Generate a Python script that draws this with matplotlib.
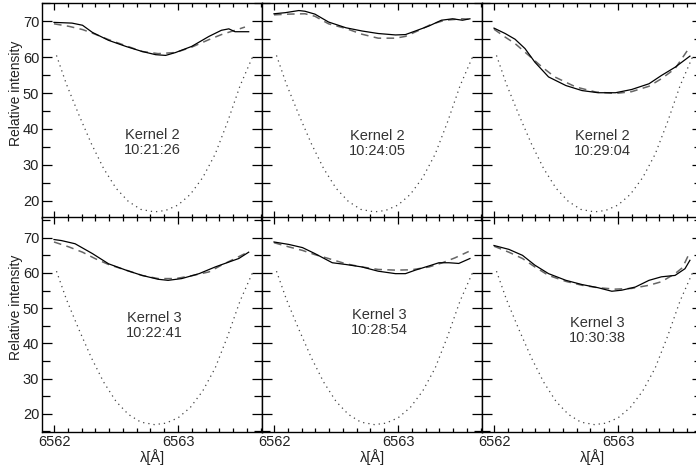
import numpy as np
import matplotlib
matplotlib.use("Agg")
import matplotlib.pyplot as plt
from matplotlib import ticker as mticker

plt.rcParams['font.family'] = ['Liberation Sans', 'DejaVu Sans']
plt.rcParams['font.size'] = 10.5

# filter / reference profile (dotted), same in every panel
dot_x = [6562.02, 6562.10, 6562.20, 6562.30, 6562.40, 6562.50, 6562.60, 6562.70, 6562.81,
         6562.90, 6563.00, 6563.10, 6563.20, 6563.30, 6563.40, 6563.50, 6563.60]
dot_y = [60.5, 52.5, 44.0, 36.0, 29.0, 23.5, 19.8, 17.6, 16.9,
         17.3, 18.8, 21.8, 26.5, 33.0, 42.0, 52.0, 60.0]

# observed profiles (solid)
obs_x = [
    [6562.00, 6562.145, 6562.23, 6562.31, 6562.44, 6562.58, 6562.71, 6562.82, 6562.90, 6562.98,
     6563.11, 6563.25, 6563.35, 6563.41, 6563.46, 6563.57],
    [6562.00, 6562.09, 6562.20, 6562.25, 6562.33, 6562.44, 6562.58, 6562.71, 6562.84, 6562.98,
     6563.06, 6563.14, 6563.25, 6563.35, 6563.44, 6563.52, 6563.58],
    [6562.00, 6562.09, 6562.17, 6562.25, 6562.33, 6562.44, 6562.58, 6562.71, 6562.84, 6562.98,
     6563.11, 6563.25, 6563.35, 6563.46, 6563.58],
    [6562.00, 6562.06, 6562.17, 6562.31, 6562.44, 6562.58, 6562.71, 6562.84, 6562.92, 6563.03,
     6563.17, 6563.30, 6563.41, 6563.49, 6563.57],
    [6562.00, 6562.12, 6562.23, 6562.33, 6562.47, 6562.58, 6562.71, 6562.84, 6562.98, 6563.06,
     6563.14, 6563.25, 6563.33, 6563.41, 6563.49, 6563.58],
    [6562.00, 6562.12, 6562.23, 6562.33, 6562.44, 6562.58, 6562.71, 6562.84, 6562.95, 6563.03,
     6563.14, 6563.25, 6563.35, 6563.46, 6563.54, 6563.58],
]
obs_y = [
    [69.7, 69.5, 68.9, 66.9, 64.7, 63.0, 61.6, 60.7, 60.5, 61.3, 63.0, 65.8, 67.5, 67.9, 67.1, 67.1],
    [72.1, 72.4, 73.0, 72.8, 72.0, 69.8, 68.2, 67.3, 66.6, 66.2, 66.3, 67.3, 68.7, 70.3, 70.7, 70.3, 70.7],
    [68.1, 66.6, 65.0, 62.4, 58.6, 54.5, 52.1, 50.7, 50.1, 50.1, 51.0, 52.6, 54.9, 57.2, 60.3],
    [69.5, 69.2, 68.3, 65.5, 62.6, 60.8, 59.3, 58.2, 57.9, 58.4, 59.8, 61.7, 63.1, 64.1, 65.9],
    [68.8, 68.1, 67.2, 65.5, 62.9, 62.4, 61.7, 60.5, 59.8, 59.8, 60.8, 62.0, 62.9, 62.9, 62.7, 64.1],
    [67.8, 66.7, 65.0, 62.2, 59.8, 57.9, 56.7, 55.8, 54.8, 55.1, 56.0, 57.9, 58.9, 59.3, 61.2, 63.6],
]

# fitted profiles (dashed)
fit_x = [
    [6562.00, 6562.12, 6562.23, 6562.31, 6562.44, 6562.71, 6562.84, 6562.98, 6563.11, 6563.25,
     6563.35, 6563.46, 6563.54],
    [6562.00, 6562.12, 6562.25, 6562.33, 6562.44, 6562.58, 6562.71, 6562.84, 6562.98, 6563.06,
     6563.17, 6563.27, 6563.38, 6563.52, 6563.57],
    [6562.00, 6562.09, 6562.17, 6562.28, 6562.39, 6562.49, 6562.66, 6562.82, 6562.98, 6563.11,
     6563.25, 6563.35, 6563.46, 6563.57],
    [6562.00, 6562.12, 6562.23, 6562.33, 6562.44, 6562.58, 6562.71, 6562.84, 6562.98, 6563.11,
     6563.25, 6563.35, 6563.46, 6563.54],
    [6562.00, 6562.12, 6562.23, 6562.33, 6562.44, 6562.58, 6562.71, 6562.84, 6562.98, 6563.11,
     6563.25, 6563.35, 6563.46, 6563.57],
    [6562.00, 6562.12, 6562.23, 6562.33, 6562.44, 6562.58, 6562.71, 6562.84, 6562.98, 6563.11,
     6563.25, 6563.35, 6563.46, 6563.52, 6563.57],
]
fit_y = [
    [69.3, 68.6, 67.7, 66.7, 64.9, 61.6, 61.0, 61.3, 62.8, 64.9, 66.3, 67.5, 68.4],
    [71.8, 72.0, 72.1, 71.4, 69.3, 68.0, 66.4, 65.3, 65.3, 65.8, 67.5, 69.2, 70.3, 70.7, 70.6],
    [67.8, 65.6, 63.8, 60.5, 57.2, 54.5, 51.7, 50.3, 49.9, 50.4, 51.9, 54.0, 56.8, 62.4],
    [68.8, 67.4, 65.9, 64.1, 62.4, 60.8, 59.3, 58.4, 58.4, 59.2, 60.3, 62.2, 64.1, 65.5],
    [68.6, 67.4, 66.4, 65.2, 64.1, 62.6, 61.7, 61.0, 60.8, 60.9, 61.7, 62.8, 64.3, 66.1],
    [67.6, 65.9, 64.1, 61.7, 59.3, 57.6, 56.5, 55.8, 55.4, 55.6, 56.5, 57.5, 59.8, 61.5, 65.2],
]

kernels = ["Kernel 2", "Kernel 2", "Kernel 2", "Kernel 3", "Kernel 3", "Kernel 3"]
times = ["10:21:26", "10:24:05", "10:29:04", "10:22:41", "10:28:54", "10:30:38"]
label_pos = [(6562.79, 36.2), (6562.83, 36.0), (6562.87, 36.0),
             (6562.81, 45.0), (6562.85, 46.0), (6562.83, 43.6)]

W, H = 696, 470
fig = plt.figure(figsize=(W/100, H/100), dpi=100)

pw, ph = 220, 215
lefts = [42, 262, 482]
tops = [3, 217]
xlim = (6562 - 12/124, 6562 - 12/124 + pw/124)
ylims = [(15.2, 75.1), (14.8, 75.9)]
minor_x = [6562 + k/9 for k in range(-1, 17)]

for i in range(6):
    r, c = divmod(i, 3)
    ax = fig.add_axes([lefts[c]/W, 1 - (tops[r] + ph)/H, pw/W, ph/H])
    ax.plot(dot_x, dot_y, color='#444444', lw=0.9, linestyle=(0, (1, 3.2)))
    ax.plot(fit_x[i], fit_y[i], color='#666666', lw=1.1, linestyle=(0, (5, 3.5)))
    ax.plot(obs_x[i], obs_y[i], color='black', lw=0.9)
    ax.text(label_pos[i][0], label_pos[i][1], kernels[i] + "\n" + times[i],
            ha='center', va='center', color='#333333', linespacing=1.1)

    ax.set_xlim(xlim)
    ax.set_ylim(ylims[r])
    ax.xaxis.set_major_locator(mticker.FixedLocator([6562, 6563]))
    ax.xaxis.set_minor_locator(mticker.FixedLocator(minor_x))
    ax.xaxis.set_major_formatter(mticker.FormatStrFormatter('%d'))
    ax.yaxis.set_major_locator(mticker.MultipleLocator(10))
    ax.yaxis.set_minor_locator(mticker.MultipleLocator(5))
    ax.tick_params(which='both', direction='in', top=True, right=True, width=0.9, color='black')
    ax.tick_params(axis='x', which='major', length=5)
    ax.tick_params(axis='x', which='minor', length=3)
    ax.tick_params(axis='y', which='major', length=7.5)
    ax.tick_params(axis='y', which='minor', length=6)
    ax.tick_params(axis='both', which='major', pad=2, labelsize=10.5, labelcolor='#222222')
    for s in ax.spines.values():
        s.set_linewidth(1.0)

    if c == 0:
        ax.set_ylabel("Relative intensity", fontsize=10, color='#222222')
        ax.yaxis.set_label_coords(-0.085, 0.58)
    else:
        ax.tick_params(axis='y', labelleft=False)
    if r == 1:
        ax.set_xlabel("λ[Å]", fontsize=10.5, labelpad=0, color='#222222')
    else:
        ax.tick_params(axis='x', labelbottom=False)

fig.savefig("out.png", dpi=100)
